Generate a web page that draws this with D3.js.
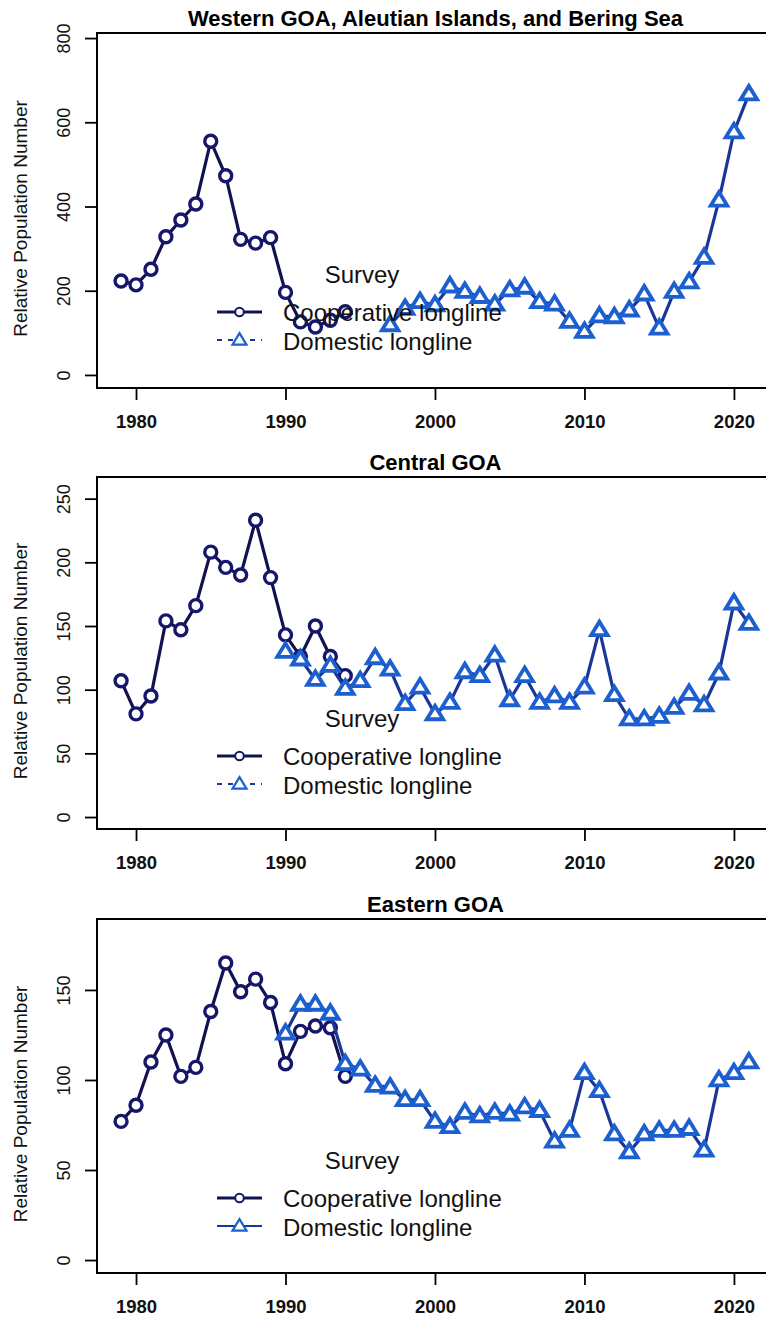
<!DOCTYPE html>
<html>
<head>
<meta charset="utf-8">
<script src="https://cdn.jsdelivr.net/npm/d3@7"></script>
<style>
  html, body { margin: 0; padding: 0; background: #fff; }
  svg { display: block; font-family: "Liberation Sans", Arial, Helvetica, sans-serif; }
</style>
</head>
<body>
<svg id="chart" width="766" height="1318"></svg>
<script>
// Cooperative longline survey years (all regions)
const coopYears = [1979, 1980, 1981, 1982, 1983, 1984, 1985, 1986, 1987, 1988, 1989, 1990, 1991, 1992, 1993, 1994];

// Domestic longline survey years
const domYearsWest = [1997, 1998, 1999, 2000, 2001, 2002, 2003, 2004, 2005, 2006, 2007, 2008, 2009, 2010, 2011, 2012, 2013, 2014, 2015, 2016, 2017, 2018, 2019, 2020, 2021];
const domYearsGOA = [1990, 1991, 1992, 1993, 1994, 1995, 1996, 1997, 1998, 1999, 2000, 2001, 2002, 2003, 2004, 2005, 2006, 2007, 2008, 2009, 2010, 2011, 2012, 2013, 2014, 2015, 2016, 2017, 2018, 2019, 2020, 2021];

// Relative population numbers: Western GOA, Aleutian Islands, and Bering Sea
const westCoop = [223, 214, 251, 328, 368, 406, 555, 473, 322, 313, 326, 196, 126, 114, 130, 150];
const westDom = [119, 158, 174, 166, 211, 198, 186, 168, 202, 208, 174, 168, 127, 103, 140, 138, 154, 192, 111, 198, 221, 279, 415, 577, 667];

// Relative population numbers: Central GOA
const centralCoop = [107, 81, 95, 154, 147, 166, 208, 196, 190, 233, 188, 143, 126, 150, 126, 111];
const centralDom = [130, 124, 108, 119, 101, 107, 125, 116, 89, 102, 81, 90, 114, 111, 127, 92, 111, 90, 95, 90, 102, 147, 96, 77, 77, 79, 86, 97, 88, 113, 168, 152];

// Relative population numbers: Eastern GOA
const eastCoop = [77, 86, 110, 125, 102, 107, 138, 165, 149, 156, 143, 109, 127, 130, 129, 102];
const eastDom = [126, 142, 142, 137, 109, 106, 97, 96, 89, 89, 77, 74, 82, 80, 82, 81, 85, 83, 66, 72, 104, 94, 70, 60, 70, 72, 72, 73, 61, 100, 104, 110];

// Axis tick labels
const xTicks = [1980, 1990, 2000, 2010, 2020];
const westTicks = [0, 200, 400, 600, 800];
const centralTicks = [0, 50, 100, 150, 200, 250];
const eastTicks = [0, 50, 100, 150];

const legendTitle = "Survey";
const seriesNames = ["Cooperative longline", "Domestic longline"];

const panels = [
  { title: "Western GOA, Aleutian Islands, and Bering Sea", top: 33, bottom: 388,
    yDomain: [-31, 812], ticks: westTicks,
    coop: coopYears.map((y, i) => ({ year: y, value: westCoop[i] })),
    dom: domYearsWest.map((y, i) => ({ year: y, value: westDom[i] })),
    domDashed: true },
  { title: "Central GOA", top: 477, bottom: 829,
    yDomain: [-9.4, 267], ticks: centralTicks,
    coop: coopYears.map((y, i) => ({ year: y, value: centralCoop[i] })),
    dom: domYearsGOA.map((y, i) => ({ year: y, value: centralDom[i] })),
    domDashed: true },
  { title: "Eastern GOA", top: 919, bottom: 1273,
    yDomain: [-7.2, 189.4], ticks: eastTicks,
    coop: coopYears.map((y, i) => ({ year: y, value: eastCoop[i] })),
    dom: domYearsGOA.map((y, i) => ({ year: y, value: eastDom[i] })),
    domDashed: false }
];

const svg = d3.select("#chart");
const left = 97, right = 774;

const coopColor = "#16166a";
const coopLine = "#121250";
const domColor = "#1c5fcf";
const domLine = "#1a3697";

const x = d3.scaleLinear().domain([1977.39, 2022.68]).range([left, right]);

// Open triangle centred on its point
function triPath(w, h) {
  return `M0,${-h * 0.6}L${w / 2},${h * 0.4}L${-w / 2},${h * 0.4}Z`;
}

panels.forEach(p => {
  const g = svg.append("g");
  const y = d3.scaleLinear().domain(p.yDomain).range([p.bottom, p.top]);

  // panel title
  g.append("text")
    .attr("x", (left + right) / 2)
    .attr("y", p.top - 7)
    .attr("text-anchor", "middle")
    .attr("font-size", 22)
    .attr("font-weight", "bold")
    .text(p.title);

  // y axis
  const ya = g.append("g")
    .attr("transform", `translate(${left},0)`)
    .call(d3.axisLeft(y).tickValues(p.ticks).tickSize(12).tickSizeOuter(0).tickFormat(d3.format("d")));
  ya.select(".domain").remove();
  ya.selectAll(".tick line").attr("stroke", "#000").attr("stroke-width", 1.8);
  ya.selectAll(".tick text")
    .attr("x", null).attr("dy", null)
    .attr("transform", `translate(${64 - left},0) rotate(-90)`)
    .attr("text-anchor", "middle")
    .attr("dy", "0.35em")
    .attr("font-size", 18)
    .attr("fill", "#111")
    .attr("font-family", null);

  // x axis
  const xa = g.append("g")
    .attr("transform", `translate(0,${p.bottom})`)
    .call(d3.axisBottom(x).tickValues(xTicks).tickSize(12).tickSizeOuter(0).tickFormat(d3.format("d")));
  xa.select(".domain").remove();
  xa.selectAll(".tick line").attr("stroke", "#000").attr("stroke-width", 1.8);
  xa.selectAll(".tick text")
    .attr("y", 40).attr("dy", null)
    .attr("font-size", 18.5)
    .attr("font-weight", "bold")
    .attr("fill", "#111")
    .attr("font-family", null);

  // plot box
  g.append("rect")
    .attr("x", left).attr("y", p.top)
    .attr("width", right - left).attr("height", p.bottom - p.top)
    .attr("fill", "none").attr("stroke", "#000").attr("stroke-width", 2);

  // y axis label
  g.append("text")
    .attr("transform", `translate(20,${(p.top + p.bottom) / 2 + 8}) rotate(-90)`)
    .attr("text-anchor", "middle")
    .attr("dy", "0.35em")
    .attr("font-size", 19)
    .attr("fill", "#111")
    .text("Relative Population Number");

  const line = d3.line().x(d => x(d.year)).y(d => y(d.value));

  // cooperative longline
  g.append("path").datum(p.coop)
    .attr("d", line).attr("fill", "none")
    .attr("stroke", coopLine).attr("stroke-width", 3.2);
  g.selectAll(".coop").data(p.coop).join("circle")
    .attr("class", "coop")
    .attr("cx", d => x(d.year)).attr("cy", d => y(d.value))
    .attr("r", 6).attr("fill", "#fff")
    .attr("stroke", coopColor).attr("stroke-width", 3.4);

  // domestic longline
  g.append("path").datum(p.dom)
    .attr("d", line).attr("fill", "none")
    .attr("stroke", domLine).attr("stroke-width", 3.2);
  g.selectAll(".dom").data(p.dom).join("path")
    .attr("class", "dom")
    .attr("transform", d => `translate(${x(d.year)},${y(d.value)})`)
    .attr("d", triPath(16.5, 13.5)).attr("fill", "#fff")
    .attr("stroke", domColor).attr("stroke-width", 3.8)
    .attr("stroke-linejoin", "miter");

  // legend
  const lg = g.append("g").attr("transform", `translate(0,${p.top})`);
  lg.append("text").attr("x", 362).attr("y", 250)
    .attr("text-anchor", "middle").attr("font-size", 24).attr("fill", "#111").text(legendTitle);

  lg.append("line").attr("x1", 217).attr("x2", 262).attr("y1", 279).attr("y2", 279)
    .attr("stroke", coopLine).attr("stroke-width", 2.8);
  lg.append("circle").attr("cx", 239.5).attr("cy", 279).attr("r", 4.3)
    .attr("fill", "#fff").attr("stroke", coopColor).attr("stroke-width", 2);
  lg.append("text").attr("x", 283).attr("y", 288).attr("font-size", 24).attr("fill", "#111").text(seriesNames[0]);

  lg.append("line").attr("x1", 217).attr("x2", 262).attr("y1", 307).attr("y2", 307)
    .attr("stroke", domLine).attr("stroke-width", 2.2)
    .attr("stroke-dasharray", p.domDashed ? "5,6" : null);
  lg.append("path").attr("transform", "translate(239.5,307)")
    .attr("d", triPath(14, 11.5)).attr("fill", "#fff")
    .attr("stroke", domColor).attr("stroke-width", 2.2);
  lg.append("text").attr("x", 283).attr("y", 317).attr("font-size", 24).attr("fill", "#111").text(seriesNames[1]);
});
</script>
</body>
</html>
